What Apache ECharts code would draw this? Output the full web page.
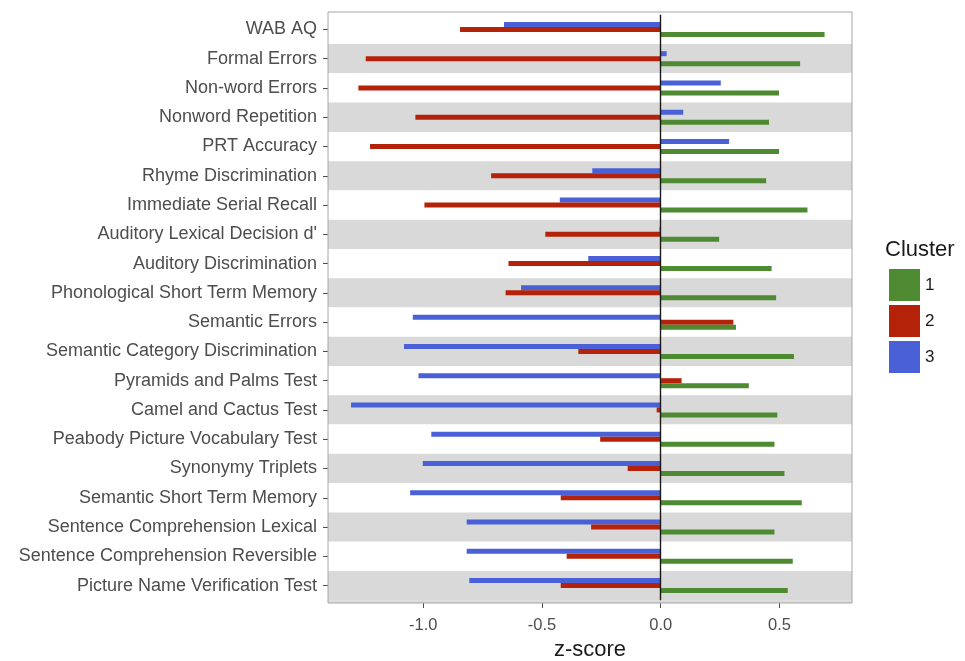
<!DOCTYPE html>
<html>
<head>
<meta charset="utf-8">
<script src="https://cdn.jsdelivr.net/npm/echarts@6/dist/echarts.min.js"></script>
<style>
html,body{margin:0;padding:0;background:#fff}
#main{width:965px;height:661px}
</style>
</head>
<body>
<div id="main"></div>
<script>
var tests = ['WAB AQ', 'Formal Errors', 'Non-word Errors', 'Nonword Repetition', 'PRT Accuracy',
  'Rhyme Discrimination', 'Immediate Serial Recall', "Auditory Lexical Decision d'", 'Auditory Discrimination',
  'Phonological Short Term Memory', 'Semantic Errors', 'Semantic Category Discrimination',
  'Pyramids and Palms Test', 'Camel and Cactus Test', 'Peabody Picture Vocabulary Test', 'Synonymy Triplets',
  'Semantic Short Term Memory', 'Sentence Comprehension Lexical', 'Sentence Comprehension Reversible',
  'Picture Name Verification Test']

// z-scores per cluster
var cluster1 = [0.69, 0.587, 0.498, 0.456, 0.498, 0.444, 0.618, 0.246, 0.467, 0.486,
  0.317, 0.561, 0.371, 0.491, 0.479, 0.521, 0.594, 0.479, 0.556, 0.535]
var cluster2 = [-0.845, -1.242, -1.273, -1.033, -1.224, -0.714, -0.995, -0.486, -0.641, -0.653,
  0.306, -0.347, 0.088, -0.017, -0.255, -0.139, -0.421, -0.293, -0.396, -0.421]
var cluster3 = [-0.66, 0.025, 0.253, 0.095, 0.288, -0.288, -0.425, -0.005, -0.305, -0.588,
  -1.044, -1.081, -1.020, -1.304, -0.966, -1.002, -1.055, -0.817, -0.817, -0.806]

var xTicks = [-1, -0.5, 0, 0.5]
var clusterNames = ['1', '2', '3']
var colors = {'1': '#4e8a31', '2': '#b5220a', '3': '#4a60d6'}

var chart = echarts.init(document.getElementById('main'))
var font = 'Liberation Sans, Arial, sans-serif'

function bar(name, data){
	return {
		name: name,
		type: 'bar',
		data: data,
		barWidth: 5,
		barGap: '0%',
		itemStyle: {color: colors[name]},
		animation: false
	}
}

var s3 = bar('3', cluster3)
var s2 = bar('2', cluster2)
var s1 = bar('1', cluster1)
// zero line
s1.markLine = {
	silent: true,
	symbol: 'none',
	label: {show: false},
	lineStyle: {color: '#1a1a1a', width: 1.4, type: 'solid'},
	data: [{xAxis: 0}]
}

chart.setOption({
	backgroundColor: '#fff',
	animation: false,
	textStyle: {fontFamily: font},
	// panel is a little taller than the category bands (ggplot expansion)
	grid: {left: 328, right: 113, top: 14.8, bottom: 60.8, outerBoundsMode: 'none', containLabel: false},
	graphic: [
		{type: 'rect', shape: {x: 328, y: 600.2, width: 524, height: 2.8}, style: {fill: '#d9d9d9'}, z: -1, silent: true},
		{type: 'rect', shape: {x: 328, y: 12, width: 524, height: 591}, style: {fill: 'none', stroke: '#a6a6a6', lineWidth: 1}, z: 100, silent: true}
	],
	xAxis: {
		type: 'value',
		min: -1.401, max: 0.8055,
		offset: 2.8,
		name: 'z-score',
		nameLocation: 'middle',
		nameGap: 36,
		nameTextStyle: {fontSize: 22, color: '#1a1a1a', fontFamily: font},
		splitLine: {show: false},
		axisLine: {show: false},
		axisTick: {show: true, customValues: xTicks, length: 5, lineStyle: {color: '#4d4d4d'}},
		axisLabel: {
			customValues: xTicks, fontSize: 16.5, color: '#4d4d4d', margin: 14, fontFamily: font,
			formatter: function(v){ return v.toFixed(1) }
		}
	},
	yAxis: {
		type: 'category',
		data: tests,
		inverse: true,
		axisLine: {show: false, onZero: false},
		axisTick: {show: true, alignWithLabel: true, length: 5, interval: 0, lineStyle: {color: '#4d4d4d'}},
		axisLabel: {interval: 0, fontSize: 18, color: '#4d4d4d', margin: 11, fontFamily: font},
		splitLine: {show: false},
		splitArea: {show: true, interval: 0, areaStyle: {color: ['#ffffff', '#d9d9d9']}}
	},
	legend: {
		data: clusterNames,
		orient: 'vertical',
		left: 889, top: 269,
		itemWidth: 31, itemHeight: 32, itemGap: 4,
		icon: 'rect',
		textStyle: {fontSize: 17, color: '#1a1a1a', fontFamily: font},
		padding: 0
	},
	title: {
		text: 'Cluster',
		left: 885, top: 239,
		padding: 0,
		textStyle: {fontSize: 22, fontWeight: 'normal', color: '#1a1a1a', fontFamily: font}
	},
	series: [s3, s2, s1]
})
</script>
</body>
</html>
